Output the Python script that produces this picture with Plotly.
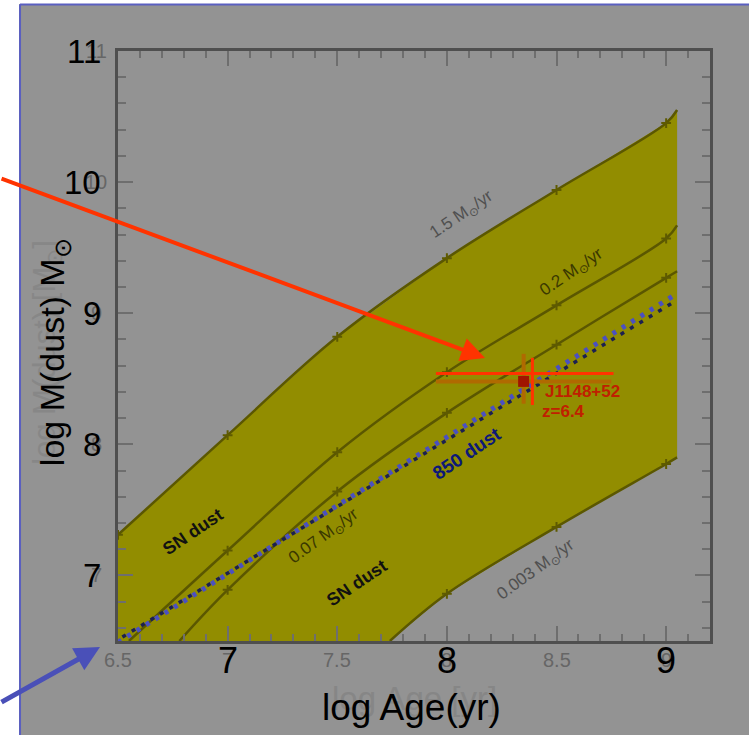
import plotly.graph_objects as go

# dust-mass tracks for constant star formation rates (log age [yr], log M_dust)
age_15 = [6.5, 7.0, 7.5, 8.0, 8.5, 9.0, 9.05]
mass_15 = [7.31, 8.07, 8.82, 9.42, 9.94, 10.45, 10.55]
age_02 = [6.55, 7.0, 7.5, 8.0, 8.5, 9.0, 9.05]
mass_02 = [6.5, 7.19, 7.94, 8.55, 9.06, 9.57, 9.67]
age_007 = [6.78, 7.0, 7.5, 8.0, 8.5, 9.0, 9.05]
mass_007 = [6.5, 6.89, 7.64, 8.24, 8.76, 9.27, 9.32]
age_0003 = [7.74, 8.0, 8.5, 9.0, 9.05]
mass_0003 = [6.5, 6.86, 7.37, 7.85, 7.9]

# dotted model lines (overlay and original)
dot_age = [6.5, 9.04]
dot_mass = [6.49, 9.14]
orig_dot_age = [6.52, 9.04]
orig_dot_mass = [6.53, 9.09]

# J1148+52 point
j_age = [8.35]
j_mass = [8.48]
j_age_lo, j_age_hi = [0.40], [0.40]
j_mass_lo, j_mass_hi = [0.17], [0.21]
# overlaid red cross
c_age = [8.39]
c_mass = [8.54]
c_age_lo, c_age_hi = [0.44], [0.37]
c_mass_lo, c_mass_hi = [0.24], [0.12]

xticks = [6.5, 7, 7.5, 8, 8.5, 9]
xticks_big = [7, 8, 9]
yticks = [7, 8, 9, 10, 11]

BG = "#939393"
OLIVE = "#5b5700"
FONT = "Liberation Sans, Arial, sans-serif"

fig = go.Figure()

# yellow area
poly_x = [6.5] + age_15 + age_0003[::-1] + [6.5]
poly_y = [6.5] + mass_15 + mass_0003[::-1] + [6.5]
fig.add_trace(go.Scatter(x=poly_x, y=poly_y, fill="toself", fillcolor="#928d00",
                         mode="lines", line=dict(width=0), hoverinfo="skip"))

for ax_, my_ in [(age_15, mass_15), (age_02, mass_02), (age_007, mass_007), (age_0003, mass_0003)]:
    fig.add_trace(go.Scatter(x=ax_, y=my_, mode="lines", line=dict(color=OLIVE, width=2.5, shape="spline")))
    mx = [a for a in ax_ if (a * 2) % 1 == 0]
    my = [m for a, m in zip(ax_, my_) if (a * 2) % 1 == 0]
    fig.add_trace(go.Scatter(x=mx, y=my, mode="markers",
                             marker=dict(symbol="cross-thin", size=7, line=dict(color="#5e5a00", width=2))))

fig.add_trace(go.Scatter(x=orig_dot_age, y=orig_dot_mass, mode="lines",
                         line=dict(color="#1c2050", width=3.5, dash="4px,7px")))
fig.add_trace(go.Scatter(x=dot_age, y=dot_mass, mode="lines",
                         line=dict(color="#4b50c0", width=5, dash="4px,7px")))

fig.add_trace(go.Scatter(x=j_age, y=j_mass, mode="markers",
                         marker=dict(symbol="square", size=11, color="#a01400"),
                         error_x=dict(type="data", array=j_age_hi, arrayminus=j_age_lo,
                                      color="#b06a00", thickness=4, width=0),
                         error_y=dict(type="data", array=j_mass_hi, arrayminus=j_mass_lo,
                                      color="#b06a00", thickness=4, width=0)))
fig.add_trace(go.Scatter(x=c_age, y=c_mass, mode="markers", marker=dict(size=1, color="#ff3300"),
                         error_x=dict(type="data", array=c_age_hi, arrayminus=c_age_lo,
                                      color="#ff3300", thickness=3, width=0),
                         error_y=dict(type="data", array=c_mass_hi, arrayminus=c_mass_lo,
                                      color="#ff3300", thickness=3, width=0)))

ann = []
# faint original tick labels
for v in xticks:
    ann.append(dict(x=v, y=0, xref="x", yref="paper", text=str(v), showarrow=False,
                    xanchor="center", yanchor="middle", yshift=-19,
                    font=dict(size=20, color="#666666", family=FONT)))
for v in yticks:
    ann.append(dict(x=0, y=v, xref="paper", yref="y", text=str(v), showarrow=False,
                    xanchor="center", yanchor="middle", xshift=-22,
                    font=dict(size=20, color="#666666", family=FONT)))
# overlaid big labels
for v in xticks_big:
    ann.append(dict(x=v, y=0, xref="x", yref="paper", text=str(v), showarrow=False,
                    xanchor="center", yanchor="middle", yshift=-19,
                    font=dict(size=36, color="black", family=FONT)))
for v in yticks:
    ann.append(dict(x=0, y=v, xref="paper", yref="y", text=str(v), showarrow=False,
                    xanchor="right", yanchor="middle", xshift=-15,
                    font=dict(size=33, color="black", family=FONT)))

# axis titles (faint original + overlay)
ann.append(dict(x=0.5, y=-0.098, xref="paper", yref="paper", text="log Age [yr]", showarrow=False,
                xanchor="center", yanchor="middle", font=dict(size=33, color="#868686", family=FONT)))
ann.append(dict(x=-0.12, y=0.49, xref="paper", yref="paper", text="log M(dust) [M<sub>⊙</sub>]",
                xanchor="center", yanchor="middle", textangle=-90, showarrow=False,
                font=dict(size=31, color="#878787", family=FONT)))
ann.append(dict(x=0.4966, y=-0.112, xref="paper", yref="paper", text="log Age(yr)", showarrow=False,
                xanchor="center", yanchor="middle", font=dict(size=37, color="black", family=FONT)))
ann.append(dict(x=-0.106, y=0.49, xref="paper", yref="paper", text="log M(dust) M<sub>⊙</sub>",
                xanchor="center", yanchor="middle", textangle=-90, showarrow=False,
                font=dict(size=34, color="black", family=FONT)))

# labels inside the plot
labels = [
    (8.07, 9.75, "1.5 M<sub>⊙</sub>/yr", "#505050", 17, -34),
    (8.57, 9.31, "0.2 M<sub>⊙</sub>/yr", "#3a3800", 17, -34),
    (7.44, 7.29, "0.07 M<sub>⊙</sub>/yr", "#3a3800", 17, -36),
    (8.41, 7.04, "0.003 M<sub>⊙</sub>/yr", "#505050", 17, -36),
    (6.84, 7.33, "<b>SN dust</b>", "#111111", 18, -34),
    (7.59, 6.94, "<b>SN dust</b>", "#111111", 18, -34),
    (8.09, 7.93, "<b>850 dust</b>", "#0c1878", 19, -34),
]
for x, y, t, c, s, a in labels:
    ann.append(dict(x=x, y=y, text=t, showarrow=False, textangle=a,
                    font=dict(size=s, color=c, family=FONT)))
ann.append(dict(x=8.62, y=8.40, text="<b>J1148+52</b>", showarrow=False,
                font=dict(size=17, color="#c02000", family=FONT)))
ann.append(dict(x=8.53, y=8.25, text="<b>z=6.4</b>", showarrow=False,
                font=dict(size=17, color="#c02000", family=FONT)))

# arrows
ann.append(dict(x=0.62, y=0.4797, xref="paper", yref="paper", text="", showarrow=True,
                ax=-485, ay=-180, arrowhead=2, arrowsize=1.2, arrowwidth=4, arrowcolor="#ff3300"))
ann.append(dict(x=-0.0304, y=-0.0102, xref="paper", yref="paper", text="", showarrow=True,
                ax=-100, ay=56, arrowhead=2, arrowsize=1.0, arrowwidth=5, arrowcolor="#4a50b8"))

shapes = [
    dict(type="rect", xref="paper", yref="paper", x0=-0.21, x1=-0.1672, y0=-0.17, y1=1.1,
         fillcolor="white", line=dict(width=0), layer="above"),
    dict(type="rect", xref="paper", yref="paper", x0=-0.21, x1=1.08, y0=1.0797, y1=1.1,
         fillcolor="white", line=dict(width=0), layer="above"),
    dict(type="line", xref="paper", yref="paper", x0=-0.1655, x1=-0.1655, y0=-0.17, y1=1.0788,
         line=dict(color="#5a5fc0", width=2)),
    dict(type="line", xref="paper", yref="paper", x0=-0.1655, x1=1.08, y0=1.0788, y1=1.0788,
         line=dict(color="#5a5fc0", width=2)),
]

axis_common = dict(showline=True, linecolor="#4f4f4f", linewidth=3, mirror="ticks",
                   showgrid=False, zeroline=False, showticklabels=False,
                   ticks="inside", ticklen=15, tickwidth=2, tickcolor="#6e6e6e")

fig.update_layout(
    width=749, height=735,
    margin=dict(l=118, r=39, t=51, b=94),
    paper_bgcolor=BG, plot_bgcolor=BG,
    showlegend=False,
    annotations=ann, shapes=shapes,
    xaxis=dict(range=[6.5, 9.2], tick0=6.5, dtick=0.5,
               minor=dict(dtick=0.1, ticks="inside", ticklen=7, tickcolor="#6e6e6e", tickwidth=2),
               **axis_common),
    yaxis=dict(range=[6.5, 11], tick0=7, dtick=1,
               minor=dict(dtick=0.2, ticks="inside", ticklen=8, tickcolor="#6e6e6e", tickwidth=2),
               **axis_common),
)

fig.write_html("out.html", config={"displayModeBar": False},
               post_script="document.body.style.margin='0px';")
